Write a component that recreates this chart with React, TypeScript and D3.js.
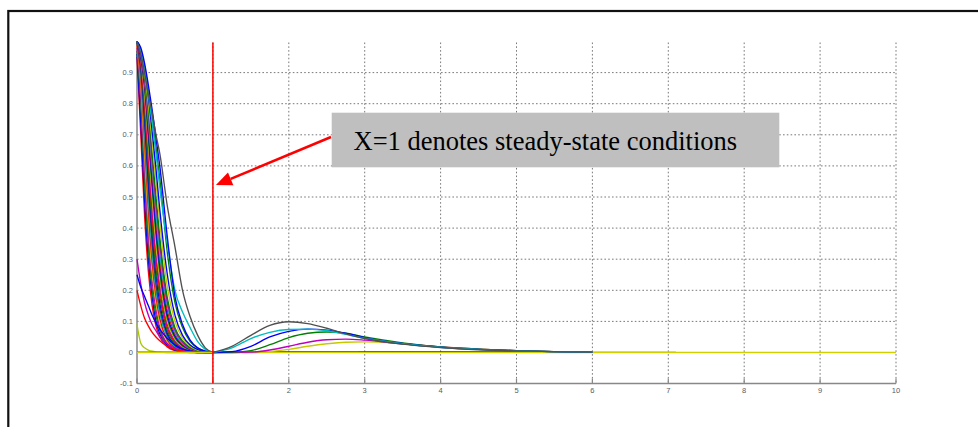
import React from "react";
import * as d3 from "d3";

// ---------- data ----------
const xTicks = [0, 1, 2, 3, 4, 5, 6, 7, 8, 9, 10];
const yTicks = [-0.1, 0, 0.1, 0.2, 0.3, 0.4, 0.5, 0.6, 0.7, 0.8, 0.9];
const yTickLabels = ["-0.1", "0", "0.1", "0.2", "0.3", "0.4", "0.5", "0.6", "0.7", "0.8", "0.9"];

// decaying profiles on 0..1
const decayX = [0, 0.05, 0.1, 0.15, 0.2, 0.25, 0.3, 0.4, 0.5, 0.6, 0.7, 0.8, 0.9, 1.0];
const decayColors = [
  "#ff0000", "#0000ff", "#008000", "#bf00bf", "#c8c800", "#ff0000", "#00bfbf",
  "#404040", "#0000ff", "#008000", "#ff0000", "#bf00bf", "#c8c800", "#008000",
  "#0000ff", "#ff0000", "#00bfbf", "#bf00bf", "#008000", "#c8c800", "#0000ff",
  "#008000", "#00bfbf", "#0000ff", "#505050",
  "#bf00bf", "#0000ff", "#ff0000", "#a8c800",
];
const decayValues = [
  [0.95, 0.70, 0.44, 0.26, 0.15, 0.085, 0.05, 0.018, 0.006, 0.002, 0, 0, 0, 0],
  [0.96, 0.74, 0.49, 0.30, 0.18, 0.10, 0.06, 0.022, 0.008, 0.003, 0.001, 0, 0, 0],
  [0.97, 0.80, 0.55, 0.34, 0.20, 0.12, 0.07, 0.027, 0.010, 0.004, 0.001, 0, 0, 0],
  [0.98, 0.83, 0.60, 0.38, 0.23, 0.14, 0.08, 0.03, 0.012, 0.005, 0.002, 0, 0, 0],
  [0.99, 0.86, 0.64, 0.42, 0.26, 0.16, 0.095, 0.035, 0.014, 0.006, 0.002, 0.001, 0, 0],
  [0.99, 0.88, 0.68, 0.46, 0.29, 0.18, 0.11, 0.04, 0.016, 0.007, 0.003, 0.001, 0, 0],
  [1.0, 0.90, 0.71, 0.50, 0.32, 0.20, 0.125, 0.048, 0.019, 0.008, 0.003, 0.001, 0, 0],
  [1.0, 0.91, 0.74, 0.53, 0.35, 0.22, 0.14, 0.055, 0.022, 0.009, 0.004, 0.001, 0, 0],
  [1.0, 0.92, 0.76, 0.56, 0.38, 0.25, 0.16, 0.062, 0.025, 0.011, 0.004, 0.002, 0, 0],
  [1.0, 0.93, 0.78, 0.59, 0.41, 0.27, 0.18, 0.07, 0.03, 0.013, 0.005, 0.002, 0.001, 0],
  [1.0, 0.93, 0.80, 0.62, 0.44, 0.30, 0.20, 0.08, 0.034, 0.015, 0.006, 0.002, 0.001, 0],
  [1.0, 0.94, 0.82, 0.65, 0.47, 0.32, 0.22, 0.09, 0.038, 0.017, 0.007, 0.003, 0.001, 0],
  [1.0, 0.95, 0.83, 0.67, 0.50, 0.35, 0.24, 0.10, 0.043, 0.019, 0.008, 0.003, 0.001, 0],
  [1.0, 0.95, 0.85, 0.69, 0.53, 0.38, 0.26, 0.11, 0.048, 0.021, 0.009, 0.004, 0.001, 0],
  [1.0, 0.95, 0.86, 0.71, 0.55, 0.40, 0.28, 0.12, 0.053, 0.024, 0.010, 0.004, 0.001, 0],
  [1.0, 0.96, 0.87, 0.73, 0.58, 0.43, 0.30, 0.135, 0.06, 0.027, 0.011, 0.005, 0.002, 0],
  [1.0, 0.96, 0.88, 0.75, 0.60, 0.45, 0.32, 0.15, 0.066, 0.03, 0.013, 0.005, 0.002, 0],
  [1.0, 0.96, 0.88, 0.77, 0.62, 0.48, 0.35, 0.16, 0.073, 0.033, 0.014, 0.006, 0.002, 0],
  [1.0, 0.97, 0.89, 0.78, 0.64, 0.50, 0.37, 0.175, 0.08, 0.037, 0.016, 0.006, 0.002, 0],
  [1.0, 0.97, 0.90, 0.80, 0.68, 0.55, 0.42, 0.21, 0.10, 0.046, 0.02, 0.008, 0.003, 0],
  [1.0, 0.97, 0.91, 0.82, 0.71, 0.59, 0.46, 0.25, 0.12, 0.055, 0.024, 0.01, 0.003, 0],
  [1.0, 0.97, 0.92, 0.84, 0.75, 0.66, 0.56, 0.32, 0.16, 0.08, 0.035, 0.014, 0.004, 0],
  [1.0, 0.97, 0.91, 0.83, 0.74, 0.64, 0.53, 0.35, 0.20, 0.13, 0.08, 0.035, 0.01, 0],
  [1.0, 0.98, 0.93, 0.86, 0.78, 0.69, 0.60, 0.37, 0.18, 0.09, 0.04, 0.015, 0.004, 0],
  [1.0, 0.96, 0.90, 0.83, 0.77, 0.70, 0.64, 0.47, 0.34, 0.20, 0.115, 0.055, 0.015, 0],
  [0.30, 0.22, 0.16, 0.12, 0.09, 0.07, 0.05, 0.028, 0.014, 0.006, 0.002, 0, 0, 0],
  [0.25, 0.21, 0.18, 0.15, 0.12, 0.095, 0.075, 0.045, 0.025, 0.012, 0.005, 0.001, 0, 0],
  [0.20, 0.15, 0.11, 0.085, 0.065, 0.05, 0.038, 0.02, 0.01, 0.004, 0.001, 0, 0, 0],
  [0.09, 0.03, 0.015, 0.008, 0.004, 0.002, 0.001, 0, 0, 0, 0, 0, 0, 0],
];

// second bump beyond steady state
const bumpX = [1, 1.25, 1.5, 1.75, 2, 2.25, 2.5, 2.75, 3, 3.5, 4, 4.5, 5, 5.5, 6];
const bumpColors = ["#c8c800", "#bf00bf", "#008000", "#0000ff", "#00bfbf", "#505050"];
const bumpValues = [
  [0, 0, 0, 0.003, 0.01, 0.02, 0.028, 0.033, 0.034, 0.028, 0.018, 0.011, 0.006, 0.003, 0.001],
  [0, 0, 0.001, 0.008, 0.02, 0.033, 0.041, 0.043, 0.04, 0.028, 0.018, 0.011, 0.006, 0.003, 0.001],
  [0, 0.001, 0.006, 0.025, 0.048, 0.062, 0.066, 0.062, 0.05, 0.031, 0.018, 0.011, 0.006, 0.003, 0.001],
  [0, 0.003, 0.02, 0.05, 0.068, 0.075, 0.072, 0.062, 0.048, 0.029, 0.017, 0.01, 0.005, 0.003, 0.001],
  [0, 0.015, 0.045, 0.065, 0.074, 0.075, 0.07, 0.058, 0.046, 0.028, 0.017, 0.01, 0.005, 0.003, 0.001],
  [0, 0.02, 0.055, 0.087, 0.099, 0.093, 0.078, 0.06, 0.045, 0.027, 0.016, 0.009, 0.005, 0.003, 0.001],
];

// near-zero flat traces: [start, end, level]
const flatStarts = [0, 1, 2.9, 4.2, 5.4, 0];
const flatEnds = [1, 2.9, 5.4, 5.95, 7.1, 10];
const flatLevels = [0.001, 0.002, 0.002, 0.0015, 0.001, 0.0];
const flatColors = ["#ff0000", "#0000ff", "#00008b", "#008000", "#7fc87f", "#d0d000"];

const annotationText = "X=1 denotes steady-state conditions";

// ---------- layout ----------
const W = 978;
const H = 427;
const x = d3.scaleLinear().domain([0, 10]).range([137, 896]);
const y = d3.scaleLinear().domain([-0.1, 1.0]).range([383.6, 41.5]);

const line = d3
  .line<[number, number]>()
  .x((d) => x(d[0]))
  .y((d) => y(d[1]))
  .curve(d3.curveMonotoneX);

export default function App() {
  const gridTop = y(1.0) + 1;
  const axisY = y(-0.1);
  const tipX = x(1) + 3;
  const tipY = 185;
  const startX = 331;
  const startY = 137;
  const ang = Math.atan2(tipY - startY, tipX - startX);
  const ah = 16;
  const aw = 7;
  const bx = tipX - ah * Math.cos(ang);
  const by = tipY - ah * Math.sin(ang);
  const px = -Math.sin(ang);
  const py = Math.cos(ang);

  return (
    <svg
      width={W}
      height={H}
      style={{ position: "absolute", left: 0, top: 0, background: "#fff" }}
    >
      <rect x={0} y={0} width={W} height={H} fill="#fff" />
      {/* outer frame */}
      <rect x={8.3} y={11} width={1200} height={1200} fill="none" stroke="#111" strokeWidth={2.2} />

      {/* grid */}
      <g stroke="#6a6a6a" strokeWidth={0.9} strokeDasharray="1.6,2.2">
        {yTicks.filter((t) => t > -0.1).map((t) => (
          <line key={"h" + t} x1={x(0)} x2={x(10)} y1={y(t)} y2={y(t)} />
        ))}
        {xTicks.filter((t) => t > 0).map((t) => (
          <line key={"v" + t} x1={x(t)} x2={x(t)} y1={gridTop} y2={axisY} />
        ))}
      </g>

      {/* axes */}
      <g stroke="#888" strokeWidth={1.5}>
        <line x1={x(0)} x2={x(0)} y1={gridTop} y2={axisY} />
        <line x1={x(0)} x2={x(10)} y1={axisY} y2={axisY} />
        {xTicks.map((t) => (
          <line key={"tx" + t} x1={x(t)} x2={x(t)} y1={axisY} y2={axisY - 5} strokeWidth={1.2} />
        ))}
      </g>

      {/* decay curves */}
      <g fill="none" strokeWidth={1.35}>
        {decayValues.map((vals, i) => (
          <path
            key={"d" + i}
            d={line(decayX.map((xv, j) => [xv, vals[j]] as [number, number])) || ""}
            stroke={decayColors[i]}
          />
        ))}
      </g>

      {/* flat traces */}
      <g fill="none" strokeWidth={1.5}>
        {flatEnds.map((e, i) => (
          <line
            key={"f" + i}
            x1={x(flatStarts[i])}
            x2={x(e)}
            y1={y(flatLevels[i])}
            y2={y(flatLevels[i])}
            stroke={flatColors[i]}
          />
        ))}
      </g>

      {/* bump curves */}
      <g fill="none" strokeWidth={1.35}>
        {bumpValues.map((vals, i) => (
          <path
            key={"b" + i}
            d={line(bumpX.map((xv, j) => [xv, vals[j]] as [number, number])) || ""}
            stroke={bumpColors[i]}
          />
        ))}
      </g>

      {/* steady-state marker */}
      <line x1={x(1)} x2={x(1)} y1={gridTop} y2={axisY} stroke="#ff0000" strokeWidth={1.5} />

      {/* tick labels */}
      <g fontFamily="Liberation Sans, Arial, sans-serif" fontSize={7.5} fill="#555a66">
        {xTicks.map((t) => (
          <text key={"lx" + t} x={x(t)} y={axisY + 9.5} textAnchor="middle">
            {t}
          </text>
        ))}
        {yTicks.map((t, i) => (
          <text key={"ly" + t} x={x(0) - 4} y={y(t) + 2.5} textAnchor="end">
            {yTickLabels[i]}
          </text>
        ))}
      </g>

      {/* arrow */}
      <line x1={startX} y1={startY} x2={bx} y2={by} stroke="#ff0000" strokeWidth={2.5} />
      <polygon
        points={`${tipX},${tipY} ${bx + px * aw},${by + py * aw} ${bx - px * aw},${by - py * aw}`}
        fill="#ff0000"
      />

      {/* annotation */}
      <rect x={331.7} y={112.7} width={447.6} height={54.6} fill="#bfbfbf" />
      <text
        x={353.5}
        y={149.5}
        fontFamily="Liberation Serif, Times New Roman, serif"
        fontSize={26.5}
        fill="#000"
      >
        {annotationText}
      </text>
    </svg>
  );
}
